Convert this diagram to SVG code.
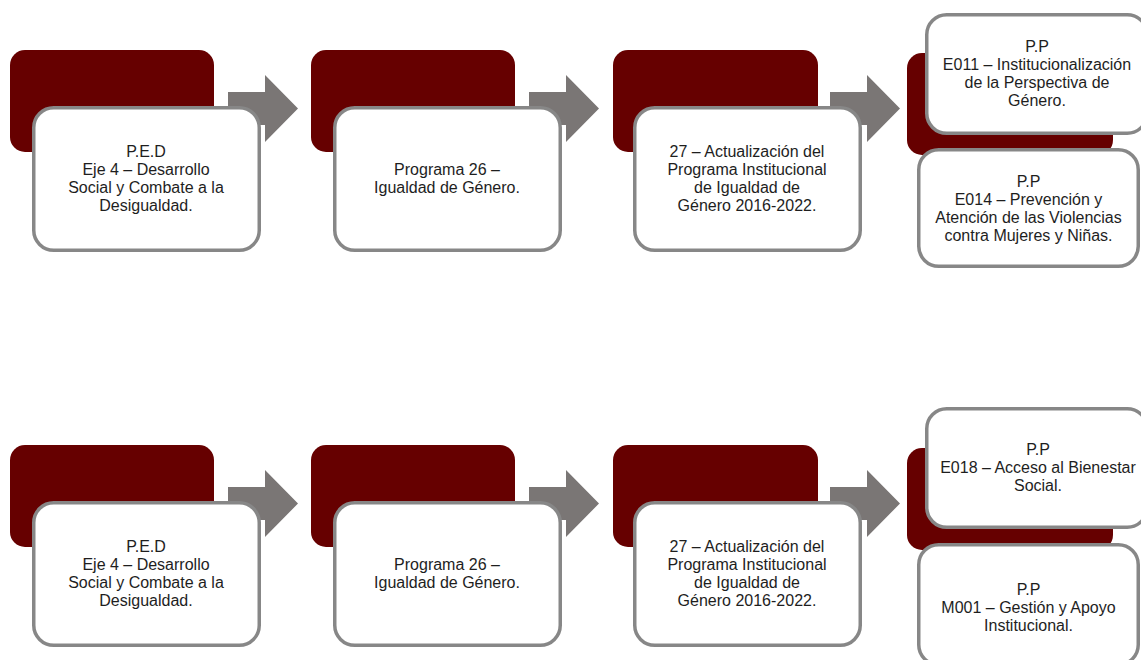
<svg xmlns="http://www.w3.org/2000/svg" width="1141" height="660" viewBox="0 0 1141 660">
<style>
.bg{fill:#660000}
.box{fill:#ffffff;stroke:#878787;stroke-width:3.5}
.arr{fill:#7a7675}
text{font-family:"Liberation Sans",Arial,sans-serif;font-size:16px;fill:#1e1e1e;text-anchor:middle}
</style>
<rect width="1141" height="660" fill="#ffffff"/>
<g id="connectors">
<path class="arr" d="M228,92 H265 V75 L298,108.5 L265,142 V125 H228 Z"/>
<path class="arr" d="M529,92 H566 V75 L599,108.5 L566,142 V125 H529 Z"/>
<path class="arr" d="M830,92 H867 V75 L900,108.5 L867,142 V125 H830 Z"/>
<path class="arr" d="M228,487 H265 V470 L298,503.5 L265,537 V520 H228 Z"/>
<path class="arr" d="M529,487 H566 V470 L599,503.5 L566,537 V520 H529 Z"/>
<path class="arr" d="M830,487 H867 V470 L900,503.5 L867,537 V520 H830 Z"/>
</g>
<g id="n1">
<rect class="bg" x="10" y="50" width="204" height="102" rx="15"/>
<rect class="box" x="33.75" y="107.75" width="225.5" height="142.5" rx="20"/>
<text x="146" y="157"><tspan x="146">P.E.D</tspan><tspan x="146" dy="18">Eje 4 – Desarrollo</tspan><tspan x="146" dy="18">Social y Combate a la</tspan><tspan x="146" dy="18">Desigualdad.</tspan></text>
</g>
<g id="n2">
<rect class="bg" x="311" y="50" width="204" height="102" rx="15"/>
<rect class="box" x="334.75" y="107.75" width="225.5" height="142.5" rx="20"/>
<text x="447" y="175"><tspan x="447">Programa 26 –</tspan><tspan x="447" dy="18">Igualdad de Género.</tspan></text>
</g>
<g id="n3">
<rect class="bg" x="613" y="50" width="205" height="102" rx="15"/>
<rect class="box" x="634.75" y="107.75" width="225.5" height="142.5" rx="20"/>
<text x="747" y="157"><tspan x="747">27 – Actualización del</tspan><tspan x="747" dy="18">Programa Institucional</tspan><tspan x="747" dy="18">de Igualdad de</tspan><tspan x="747" dy="18">Género 2016-2022.</tspan></text>
</g>
<g id="n4">
<rect class="bg" x="907" y="53" width="206" height="102" rx="15"/>
<rect class="box" x="926.75" y="14.75" width="220.5" height="118.5" rx="20"/>
<text x="1037" y="52"><tspan x="1037">P.P</tspan><tspan x="1037" dy="18">E011 – Institucionalización</tspan><tspan x="1037" dy="18">de la Perspectiva de</tspan><tspan x="1037" dy="18">Género.</tspan></text>
</g>
<g id="n5">
<rect class="box" x="918.75" y="149.75" width="219.5" height="116.5" rx="20"/>
<text x="1028.5" y="187"><tspan x="1028.5">P.P</tspan><tspan x="1028.5" dy="18">E014 – Prevención y</tspan><tspan x="1028.5" dy="18">Atención de las Violencias</tspan><tspan x="1028.5" dy="18">contra Mujeres y Niñas.</tspan></text>
</g>
<g id="n6">
<rect class="bg" x="10" y="445" width="204" height="102" rx="15"/>
<rect class="box" x="33.75" y="502.75" width="225.5" height="142.5" rx="20"/>
<text x="146" y="552"><tspan x="146">P.E.D</tspan><tspan x="146" dy="18">Eje 4 – Desarrollo</tspan><tspan x="146" dy="18">Social y Combate a la</tspan><tspan x="146" dy="18">Desigualdad.</tspan></text>
</g>
<g id="n7">
<rect class="bg" x="311" y="445" width="204" height="102" rx="15"/>
<rect class="box" x="334.75" y="502.75" width="225.5" height="142.5" rx="20"/>
<text x="447" y="570"><tspan x="447">Programa 26 –</tspan><tspan x="447" dy="18">Igualdad de Género.</tspan></text>
</g>
<g id="n8">
<rect class="bg" x="613" y="445" width="205" height="102" rx="15"/>
<rect class="box" x="634.75" y="502.75" width="225.5" height="142.5" rx="20"/>
<text x="747" y="552"><tspan x="747">27 – Actualización del</tspan><tspan x="747" dy="18">Programa Institucional</tspan><tspan x="747" dy="18">de Igualdad de</tspan><tspan x="747" dy="18">Género 2016-2022.</tspan></text>
</g>
<g id="n9">
<rect class="bg" x="907" y="448" width="206" height="102" rx="15"/>
<rect class="box" x="926.75" y="408.75" width="220.5" height="118.5" rx="20"/>
<text x="1038" y="455"><tspan x="1038">P.P</tspan><tspan x="1038" dy="18">E018 – Acceso al Bienestar</tspan><tspan x="1038" dy="18">Social.</tspan></text>
</g>
<g id="n10">
<rect class="box" x="918.75" y="544.75" width="219.5" height="120" rx="20"/>
<text x="1028.5" y="595"><tspan x="1028.5">P.P</tspan><tspan x="1028.5" dy="18">M001 – Gestión y Apoyo</tspan><tspan x="1028.5" dy="18">Institucional.</tspan></text>
</g>
</svg>
